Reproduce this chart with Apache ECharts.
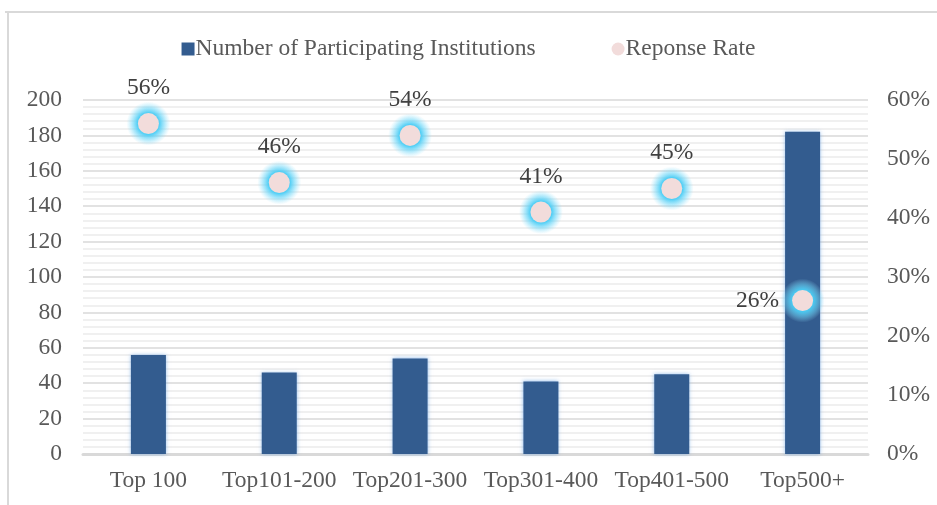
<!DOCTYPE html>
<html>
<head>
<meta charset="utf-8">
<script src="https://cdn.jsdelivr.net/npm/echarts@6/dist/echarts.min.js"></script>
<style>
  html, body { margin: 0; padding: 0; background: #fff; }
  #chart { width: 937px; height: 505px; }
</style>
</head>
<body>
<div id="chart"></div>
<script>
// data
const categories = ['Top 100', 'Top101-200', 'Top201-300', 'Top301-400', 'Top401-500', 'Top500+']
const institutions = [56, 46, 54, 41, 45, 182]
const responseRate = [0.56, 0.46, 0.54, 0.41, 0.45, 0.26]
const labelPos = ['top', 'top', 'top', 'top', 'top', 'left']

const serif = '"Liberation Serif", "DejaVu Serif", serif'
const txt = '#595959'
const fs = 23.5

let chart = echarts.init(document.getElementById('chart'))

let glowFill = new echarts.graphic.RadialGradient(0.5, 0.5, 0.5, [
  { offset: 0, color: 'rgba(60, 200, 245, 1)' },
  { offset: 0.5, color: 'rgba(75, 205, 245, 0.95)' },
  { offset: 0.75, color: 'rgba(110, 215, 248, 0.5)' },
  { offset: 1, color: 'rgba(150, 225, 250, 0)' }
])

let option = {
  animation: false,
  textStyle: { fontFamily: serif },
  graphic: [
    { type: 'line', shape: { x1: 8, y1: 12, x2: 8, y2: 505 }, style: { stroke: '#d9d9d9', lineWidth: 2 } },
    { type: 'line', shape: { x1: 5, y1: 12, x2: 937, y2: 12 }, style: { stroke: '#d9d9d9', lineWidth: 2 } }
  ],
  legend: {
    top: 32,
    left: 'center',
    itemGap: 76,
    itemWidth: 13,
    itemHeight: 13,
    textStyle: { fontFamily: serif, fontSize: fs, color: txt, padding: [0, 0, 0, -4] },
    data: [
      { name: 'Number of Participating Institutions', icon: 'rect' },
      { name: 'Reponse Rate', icon: 'circle' }
    ]
  },
  grid: { left: 83, right: 69, top: 100, bottom: 51 },
  xAxis: {
    type: 'category',
    data: categories,
    axisLine: { lineStyle: { color: '#d9d9d9', width: 3 } },
    axisTick: { show: false },
    axisLabel: { interval: 0, fontFamily: serif, fontSize: fs, color: txt, margin: 15 }
  },
  yAxis: [
    {
      type: 'value',
      min: 0,
      max: 200,
      interval: 20,
      axisLine: { show: false },
      axisTick: { show: false },
      axisLabel: { fontFamily: serif, fontSize: fs, color: txt, margin: 21 },
      splitLine: { lineStyle: { color: '#d9d9d9', width: 1.5 } },
      minorTick: { show: false, splitNumber: 5 },
      minorSplitLine: { show: true, lineStyle: { color: '#ebebeb', width: 1.5 } }
    },
    {
      type: 'value',
      min: 0,
      max: 0.6,
      interval: 0.1,
      axisLine: { show: false },
      axisTick: { show: false },
      splitLine: { show: false },
      axisLabel: {
        fontFamily: serif, fontSize: fs, color: txt, margin: 19,
        formatter: v => Math.round(v * 100) + '%'
      }
    }
  ],
  series: [
    {
      name: 'Number of Participating Institutions',
      type: 'bar',
      data: institutions,
      barWidth: 35,
      itemStyle: {
        color: '#335c8f',
        shadowBlur: 4,
        shadowColor: 'rgba(110, 165, 230, 0.7)'
      }
    },
    {
      // soft glow under the dots
      name: 'glow',
      type: 'scatter',
      yAxisIndex: 1,
      symbolSize: 44,
      silent: true,
      data: responseRate,
      itemStyle: { color: glowFill, opacity: 1 },
      label: { show: false }
    },
    {
      name: 'Reponse Rate',
      type: 'scatter',
      yAxisIndex: 1,
      symbolSize: 21,
      data: responseRate.map((v, i) => ({
        value: v,
        label: { position: labelPos[i] }
      })),
      itemStyle: {
        color: '#f2dcdb',
        opacity: 1
      },
      label: {
        show: true,
        distance: 13,
        fontFamily: serif,
        fontSize: fs,
        color: '#404040',
        formatter: p => Math.round(p.value * 100) + '%'
      }
    }
  ]
}

chart.setOption(option)
window.addEventListener('resize', () => chart.resize())
</script>
</body>
</html>
